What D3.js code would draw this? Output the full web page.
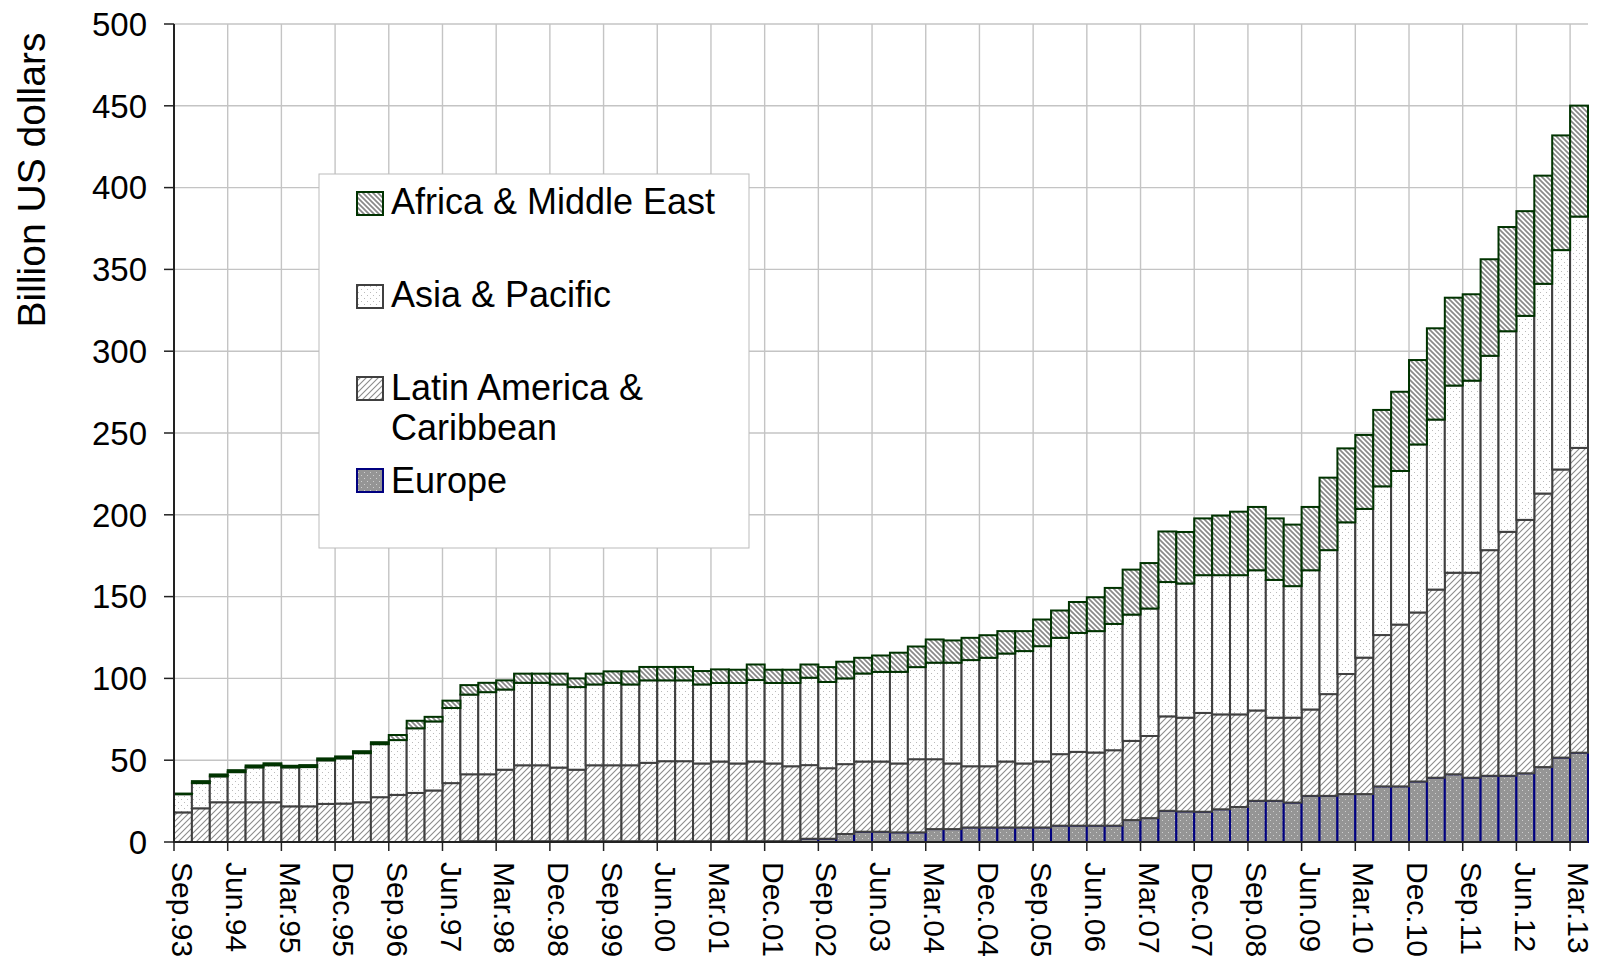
<!DOCTYPE html>
<html>
<head>
<meta charset="utf-8">
<script src="https://cdnjs.cloudflare.com/ajax/libs/d3/7.8.5/d3.min.js"></script>
<style>
  body { margin: 0; background: #fff; }
  text { font-family: Arial, "Liberation Sans", sans-serif; fill: #000; }
</style>
</head>
<body>
<svg id="chart" width="1598" height="964"></svg>
<script>
// quarterly categories, Sep.93 .. Mar.13
var quarters = ["Sep.93","Dec.93",
  "Mar.94","Jun.94","Sep.94","Dec.94","Mar.95","Jun.95","Sep.95","Dec.95",
  "Mar.96","Jun.96","Sep.96","Dec.96","Mar.97","Jun.97","Sep.97","Dec.97",
  "Mar.98","Jun.98","Sep.98","Dec.98","Mar.99","Jun.99","Sep.99","Dec.99",
  "Mar.00","Jun.00","Sep.00","Dec.00","Mar.01","Jun.01","Sep.01","Dec.01",
  "Mar.02","Jun.02","Sep.02","Dec.02","Mar.03","Jun.03","Sep.03","Dec.03",
  "Mar.04","Jun.04","Sep.04","Dec.04","Mar.05","Jun.05","Sep.05","Dec.05",
  "Mar.06","Jun.06","Sep.06","Dec.06","Mar.07","Jun.07","Sep.07","Dec.07",
  "Mar.08","Jun.08","Sep.08","Dec.08","Mar.09","Jun.09","Sep.09","Dec.09",
  "Mar.10","Jun.10","Sep.10","Dec.10","Mar.11","Jun.11","Sep.11","Dec.11",
  "Mar.12","Jun.12","Sep.12","Dec.12","Mar.13"];

var europe = [0,0,0,0,0,0,0,0,0,0,0,0,0,0,0,0,
  0.5,0.5,0.5,0.5,0.5,0.5,0.5,0.5,0.5,0.5,0.5,0.5,0.5,0.5,0.5,0.5,0.5,0.5,0.5,
  2.0,2.0,4.9,6.3,6.3,5.9,5.9,7.9,7.9,8.9,8.9,8.9,8.9,8.9,10,10,10,10,13.4,14.6,
  19.1,18.7,18.5,20,21.4,25.2,25.2,24.1,28.2,28.2,29.3,29.3,34,34,37,39.3,41.4,
  39.3,40.5,40.5,42,45.8,51.6,54.6];

var latin = [18.1,20.6,24.3,24.3,24.3,24.3,21.8,21.8,23.3,23.5,24.3,27.4,28.8,30.0,31.5,36.0,
  40.9,40.9,43.7,46.4,46.4,45.0,43.7,46.4,46.4,46.4,47.9,48.9,48.9,
  47.5,48.7,47.5,48.7,47.5,45.8,
  45.0,43.1,42.7,42.9,42.9,42.1,44.7,42.7,40.1,37.4,37.4,40.3,39.1,40.3,
  43.7,45.1,44.7,46.1,48.4,50.2,
  57.7,57.3,60.4,58.0,56.6,55.2,50.8,51.9,52.8,62.2,73.4,83.4,92.5,98.9,103.3,
  115.0,123.2,125.3,137.9,149.1,154.9,167.2,176.1,186.3];

var asia = [11.1,15.4,15.8,18.4,21.3,22.6,23.8,24.0,26.6,27.6,30.0,32.4,33.5,39.5,42.2,45.9,
  48.7,50.2,49.0,50.4,50.4,50.8,50.5,49.4,50.4,49.4,50.4,49.4,49.4,
  48.3,48.0,49.2,49.8,49.2,50.9,
  53.4,52.7,52.4,53.8,54.8,56.0,56.3,59.0,61.6,64.9,66.3,66.0,68.7,70.5,
  71.1,72.7,74.2,77.2,77.2,77.9,
  82.1,82.0,84.2,85.1,85.1,85.7,84.2,80.4,85.1,88.0,92.7,90.9,90.9,93.9,102.7,
  103.9,114.4,117.4,118.8,122.6,124.7,128.2,134.1,141.4];

var africa = [0.4,1.2,1.2,1.2,1.2,1.2,1.0,1.2,1.2,1.2,1.2,1.2,3.1,4.6,2.8,4.5,
  5.8,5.7,5.6,5.6,5.6,6.6,5.3,6.6,7.0,8.0,8.2,8.2,8.2,
  8.2,8.3,8.1,9.5,8.1,8.1,
  8.1,9.1,10.2,9.6,10.0,11.7,12.6,14.2,13.6,13.6,13.8,13.7,12.2,16.3,
  16.7,18.9,20.7,22.0,27.5,27.8,
  30.9,31.5,34.7,36.4,38.8,38.7,37.6,37.6,38.7,44.3,45.2,45.2,46.7,48.4,51.6,
  55.8,53.7,52.8,59.0,63.7,64.0,66.1,70.1,67.8];

var yTicks = [0,50,100,150,200,250,300,350,400,450,500];

var svg = d3.select("#chart");
var plotL = 174, plotR = 1588, plotT = 24, plotB = 842;

var x = d3.scaleBand().domain(quarters).range([plotL, plotR]).padding(0);
var y = d3.scaleLinear().domain([0, 500]).range([plotB, plotT]);
var bw = x.bandwidth();

// patterns
var defs = svg.append("defs");
var pAf = defs.append("pattern").attr("id", "pAfrica")
  .attr("patternUnits", "userSpaceOnUse").attr("width", 5).attr("height", 5);
pAf.append("rect").attr("width", 5).attr("height", 5).attr("fill", "#fff");
pAf.append("path").attr("d", "M0,0L5,5M-1,4L1,6M4,-1L6,1")
  .attr("stroke", "#888").attr("stroke-width", 1.7);

var pLa = defs.append("pattern").attr("id", "pLatin")
  .attr("patternUnits", "userSpaceOnUse").attr("width", 6).attr("height", 6);
pLa.append("rect").attr("width", 6).attr("height", 6).attr("fill", "#fff");
pLa.append("path").attr("d", "M0,6L6,0M-1,1L1,-1M5,7L7,5")
  .attr("stroke", "#8c8c8c").attr("stroke-width", 1.1);

var pAs = defs.append("pattern").attr("id", "pAsia")
  .attr("patternUnits", "userSpaceOnUse").attr("width", 6).attr("height", 6);
pAs.append("rect").attr("width", 6).attr("height", 6).attr("fill", "#fff");
pAs.append("rect").attr("x", 1).attr("y", 1).attr("width", 1).attr("height", 1).attr("fill", "#bbb");
pAs.append("rect").attr("x", 4).attr("y", 4).attr("width", 1).attr("height", 1).attr("fill", "#bbb");

var pEu = defs.append("pattern").attr("id", "pEurope")
  .attr("patternUnits", "userSpaceOnUse").attr("width", 6).attr("height", 6);
pEu.append("rect").attr("width", 6).attr("height", 6).attr("fill", "#959595");
pEu.append("rect").attr("x", 1).attr("y", 1).attr("width", 1).attr("height", 1).attr("fill", "#d0d0d0");
pEu.append("rect").attr("x", 4).attr("y", 4).attr("width", 1).attr("height", 1).attr("fill", "#d0d0d0");

var fills = ["url(#pEurope)", "url(#pLatin)", "url(#pAsia)", "url(#pAfrica)"];
var strokes = ["#000080", "#404040", "#404040", "#003300"];

// gridlines
svg.append("g").selectAll("line").data(yTicks.slice(1)).enter().append("line")
  .attr("x1", plotL).attr("x2", plotR)
  .attr("y1", d => y(d)).attr("y2", d => y(d))
  .attr("stroke", "#c4c4c4").attr("stroke-width", 1.4);

var labelIdx = quarters.map((q, i) => i).filter(i => i % 3 == 0);
svg.append("g").selectAll("line").data(labelIdx.slice(1)).enter().append("line")
  .attr("x1", i => x(quarters[i])).attr("x2", i => x(quarters[i]))
  .attr("y1", plotT).attr("y2", plotB)
  .attr("stroke", "#c4c4c4").attr("stroke-width", 1.4);

// stacked bars
var table = quarters.map((q, i) => ({q: q, e: europe[i], l: latin[i], a: asia[i], f: africa[i]}));
var stack = d3.stack().keys(["e", "l", "a", "f"])(table);

stack.forEach((layer, k) => {
  svg.append("g").selectAll("rect")
    .data(layer.filter(d => d[1] - d[0] > 0))
    .enter().append("rect")
    .attr("x", d => x(d.data.q))
    .attr("width", bw)
    .attr("y", d => y(d[1]))
    .attr("height", d => y(d[0]) - y(d[1]))
    .attr("fill", fills[k])
    .attr("stroke", strokes[k])
    .attr("stroke-width", 2);
});

// axes
svg.append("line").attr("x1", plotL).attr("x2", plotL).attr("y1", plotT).attr("y2", plotB + 1)
  .attr("stroke", "#222").attr("stroke-width", 2);
svg.append("line").attr("x1", plotL - 1).attr("x2", plotR).attr("y1", plotB).attr("y2", plotB)
  .attr("stroke", "#222").attr("stroke-width", 2);

svg.append("g").selectAll("line").data(yTicks).enter().append("line")
  .attr("x1", plotL - 10).attr("x2", plotL)
  .attr("y1", d => y(d)).attr("y2", d => y(d))
  .attr("stroke", "#222").attr("stroke-width", 1.5);

svg.append("g").selectAll("text").data(yTicks).enter().append("text")
  .attr("x", 147).attr("y", d => y(d)).attr("dy", "0.36em")
  .attr("text-anchor", "end").style("font-size", "33px")
  .text(d => d);

svg.append("g").selectAll("line").data(labelIdx).enter().append("line")
  .attr("x1", i => x(quarters[i])).attr("x2", i => x(quarters[i]))
  .attr("y1", plotB).attr("y2", plotB + 9)
  .attr("stroke", "#222").attr("stroke-width", 1.5);

svg.append("g").selectAll("text").data(labelIdx).enter().append("text")
  .attr("transform", i => "translate(" + (x(quarters[i]) + bw / 2) + "," + 862 + ") rotate(90)")
  .attr("dy", "0.36em").style("font-size", "30px")
  .text(i => quarters[i]);

svg.append("text")
  .attr("transform", "translate(45,180) rotate(-90)")
  .attr("text-anchor", "middle").style("font-size", "39px")
  .text("Billion US dollars");

// legend
var leg = svg.append("g");
leg.append("rect").attr("x", 319).attr("y", 174).attr("width", 430).attr("height", 374)
  .attr("fill", "#fff").attr("stroke", "#bbb").attr("stroke-width", 1);

var legendItems = [
  {k: 3, sy: 192, lines: ["Africa & Middle East"], by: 214},
  {k: 2, sy: 285, lines: ["Asia & Pacific"], by: 307},
  {k: 1, sy: 377, lines: ["Latin America &", "Caribbean"], by: 400},
  {k: 0, sy: 469, lines: ["Europe"], by: 493}
];
legendItems.forEach(it => {
  leg.append("rect").attr("x", 357).attr("y", it.sy).attr("width", 26).attr("height", 23)
    .attr("fill", fills[it.k]).attr("stroke", strokes[it.k]).attr("stroke-width", 2);
  it.lines.forEach((t, j) => {
    leg.append("text").attr("x", 391).attr("y", it.by + j * 40)
      .style("font-size", "36px").text(t);
  });
});
</script>
</body>
</html>
